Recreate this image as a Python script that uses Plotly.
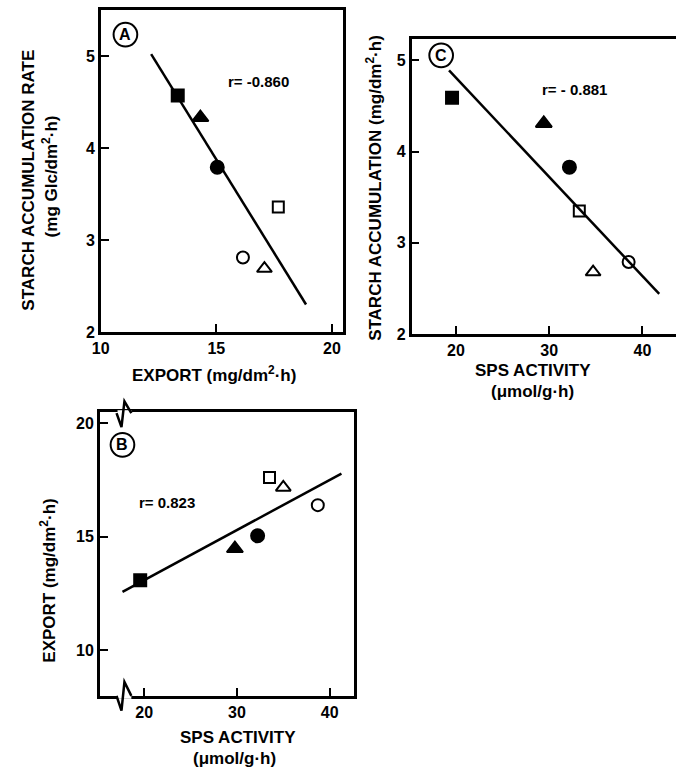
import plotly.graph_objects as go

W, H = 676, 777

# ---- data ----
symbols = ["square", "triangle-up", "circle", "square-open", "triangle-up-open", "circle-open"]
sizes = [12, 14, 13, 11, 13, 12]

# Panel A: export vs starch accumulation rate
a_export = [13.33, 14.31, 15.04, 17.68, 17.08, 16.15]
a_starch = [4.57, 4.33, 3.79, 3.36, 2.69, 2.81]
a_line_x = [12.18, 18.88]
a_line_y = [5.02, 2.30]

# Panel C: SPS activity vs starch accumulation
c_sps = [19.58, 29.42, 32.17, 33.23, 34.71, 38.52]
c_starch = [4.59, 4.31, 3.83, 3.35, 2.68, 2.79]
c_line_x = [19.26, 41.8]
c_line_y = [4.89, 2.44]

# Panel B: SPS activity vs export
b_sps = [19.57, 29.78, 32.23, 33.51, 35.0, 38.72]
b_export = [13.09, 14.48, 15.04, 17.61, 17.17, 16.39]
b_line_x = [17.66, 41.27]
b_line_y = [12.57, 17.78]

a_xticks = [10, 15, 20]
a_yticks = [2, 3, 4, 5]
c_xticks = [20, 30, 40]
c_yticks = [2, 3, 4, 5]
b_xticks = [20, 30, 40]
b_yticks = [10, 15, 20]

FONT = "Liberation Sans"


def px(x):
    return x / W


def py(y):
    return 1 - y / H


fig = go.Figure()


def add_panel(xs, ys, lx, ly, xa, ya):
    fig.add_trace(go.Scatter(x=lx, y=ly, mode="lines", line=dict(color="black", width=2.5),
                             xaxis=xa, yaxis=ya, showlegend=False, hoverinfo="skip"))
    for x, y, s, sz in zip(xs, ys, symbols, sizes):
        fig.add_trace(go.Scatter(x=[x], y=[y], mode="markers",
                                 marker=dict(symbol=s, size=sz, color="black",
                                             line=dict(color="black", width=2)),
                                 xaxis=xa, yaxis=ya, showlegend=False))


add_panel(a_export, a_starch, a_line_x, a_line_y, "x", "y")
add_panel(c_sps, c_starch, c_line_x, c_line_y, "x2", "y2")
add_panel(b_sps, b_export, b_line_x, b_line_y, "x3", "y3")

tickfont = dict(family=FONT, size=16, color="black")


def ax(dom, rng, ticks, anchor, mirror=True):
    return dict(domain=dom, range=rng, tickvals=ticks, ticktext=[f"<b>{t}</b>" for t in ticks],
                ticks="inside", ticklen=8, tickwidth=2, tickcolor="black",
                showline=True, linecolor="black", linewidth=2.5, mirror=mirror,
                showgrid=False, zeroline=False, tickfont=tickfont, anchor=anchor,
                fixedrange=True)


fig.update_layout(
    width=W, height=H, margin=dict(l=0, r=0, t=0, b=0),
    paper_bgcolor="white", plot_bgcolor="white",
    xaxis=ax([px(93), px(339)], [10, 20.5], a_xticks, "y"),
    yaxis=ax([py(336), py(10)], [2, 5.5], a_yticks, "x"),
    xaxis2=ax([px(408), 1.0], [15.24, 43.6], c_xticks, "y2"),
    yaxis2=ax([py(338), py(39)], [2, 5.24], c_yticks, "x2", mirror=False),
    xaxis3=ax([px(92), px(350)], [15.21, 42.66], b_xticks, "y3"),
    yaxis3=ax([py(704), py(417)], [8.0, 20.48], b_yticks, "x3"),
)

annots = []


def text(x, y, s, size=17, angle=0, bold=True):
    annots.append(dict(x=px(x), y=py(y), xref="paper", yref="paper", text=(f"<b>{s}</b>" if bold else s),
                       showarrow=False, textangle=angle, xanchor="center", yanchor="middle",
                       font=dict(family=FONT, size=size, color="black")))


# axis titles
text(20, 182, "STARCH ACCUMULATION RATE", angle=-90)
text(41, 178, "(mg Glc/dm<sup>2</sup>·h)", angle=-90)
text(208, 378, "EXPORT (mg/dm<sup>2</sup>·h)")
text(370, 190, "STARCH ACCUMULATION (mg/dm<sup>2</sup>·h)", angle=-90)
text(531, 375, "SPS ACTIVITY")
text(531, 396, "(μmol/g·h)")
text(40, 587, "EXPORT (mg/dm<sup>2</sup>·h)", angle=-90)
text(232, 746, "SPS ACTIVITY")
text(229, 767, "(μmol/g·h)")
# r values
text(253, 82, "r= -0.860", size=15)
text(573, 91, "r= - 0.881", size=15)
text(160, 508, "r= 0.823", size=15)
# panel letters
text(118, 35, "A", size=16)
text(438, 56, "C", size=16)
text(115, 450, "B", size=16)

shapes = []
for cx, cy in [(118, 35), (438, 56), (115, 450)]:
    r = 12
    shapes.append(dict(type="circle", xref="paper", yref="paper",
                       x0=px(cx - r), x1=px(cx + r), y0=py(cy + r), y1=py(cy - r),
                       line=dict(color="black", width=2)))


def path(points):
    d = "M " + " L ".join(f"{px(x)},{py(y)}" for x, y in points)
    return d


# axis break marks on panel B
for base, dip, peak in [(418, 432, 406), (704, 719, 690)]:
    shapes.append(dict(type="rect", xref="paper", yref="paper", x0=px(110), x1=px(124),
                       y0=py(base + 3), y1=py(base - 3), fillcolor="white", line=dict(width=0),
                       layer="above"))
    shapes.append(dict(type="path", xref="paper", yref="paper",
                       path=path([(109, base), (114, dip), (117, peak), (124, base)]),
                       line=dict(color="black", width=2.5), layer="above"))

fig.update_layout(annotations=annots, shapes=shapes)
fig.write_html("out.html")
